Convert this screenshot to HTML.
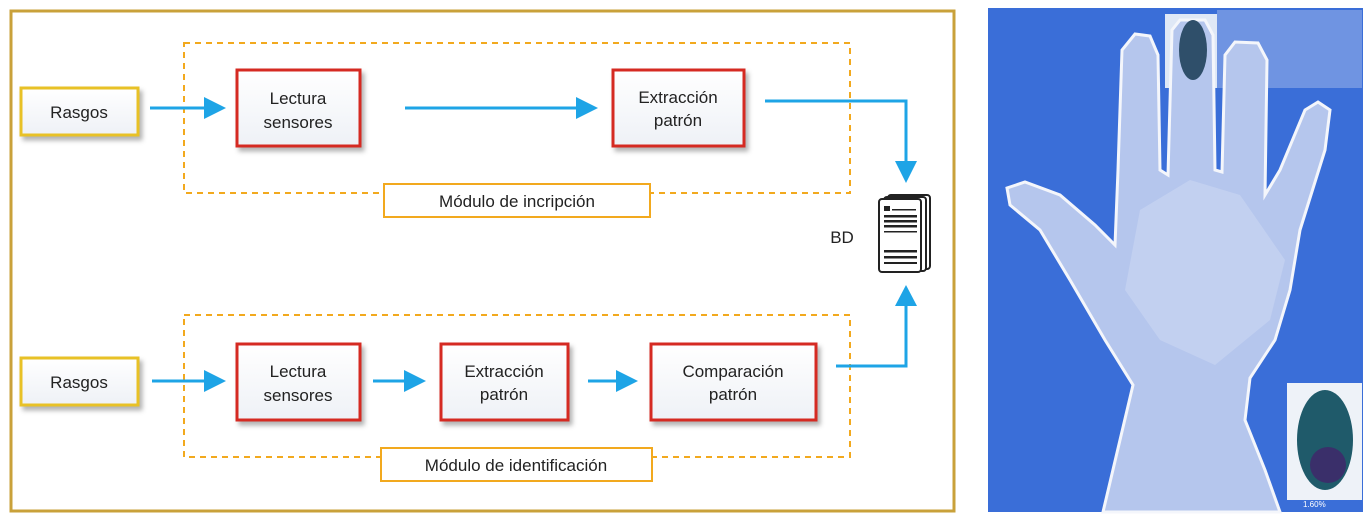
<!DOCTYPE html>
<html><head><meta charset="utf-8"><style>
html,body{margin:0;padding:0;background:#fff;width:1370px;height:520px;overflow:hidden}
svg{display:block}
text{font-family:"Liberation Sans",sans-serif;fill:#222}
</style></head><body>
<svg width="1370" height="520" viewBox="0 0 1370 520" xmlns="http://www.w3.org/2000/svg">
<defs>
<filter id="sh" x="-20%" y="-20%" width="150%" height="150%"><feDropShadow dx="3" dy="4" stdDeviation="2.5" flood-color="#000" flood-opacity="0.3"/></filter>
<linearGradient id="bg" x1="0" y1="0" x2="0" y2="1"><stop offset="0" stop-color="#ffffff"/><stop offset="1" stop-color="#eef1f6"/></linearGradient>
</defs>
<rect x="11" y="11" width="943" height="500" fill="#fff" stroke="#c9a13a" stroke-width="3"/>
<rect x="184" y="43" width="666" height="150" fill="none" stroke="#f2a91e" stroke-width="2" stroke-dasharray="6,5"/>
<rect x="184" y="315" width="666" height="142" fill="none" stroke="#f2a91e" stroke-width="2" stroke-dasharray="6,5"/>
<g filter="url(#sh)" stroke-width="3">
<rect x="21" y="88" width="117" height="47" fill="url(#bg)" stroke="#e8c128"/>
<rect x="21" y="358" width="117" height="47" fill="url(#bg)" stroke="#e8c128"/>
<rect x="237" y="70" width="123" height="76" fill="url(#bg)" stroke="#d52a22"/>
<rect x="613" y="70" width="131" height="76" fill="url(#bg)" stroke="#d52a22"/>
<rect x="237" y="344" width="123" height="76" fill="url(#bg)" stroke="#d52a22"/>
<rect x="441" y="344" width="127" height="76" fill="url(#bg)" stroke="#d52a22"/>
<rect x="651" y="344" width="165" height="76" fill="url(#bg)" stroke="#d52a22"/>
</g>
<rect x="384" y="184" width="266" height="33" fill="#fff" stroke="#f2a91e" stroke-width="2"/>
<rect x="381" y="448" width="271" height="33" fill="#fff" stroke="#f2a91e" stroke-width="2"/>
<g font-size="17" text-anchor="middle">
<text x="79" y="118">Rasgos</text>
<text x="79" y="388">Rasgos</text>
<text x="298" y="104">Lectura</text><text x="298" y="128">sensores</text>
<text x="678" y="103">Extracción</text><text x="678" y="126">patrón</text>
<text x="298" y="377">Lectura</text><text x="298" y="401">sensores</text>
<text x="504" y="377">Extracción</text><text x="504" y="400">patrón</text>
<text x="733" y="377">Comparación</text><text x="733" y="400">patrón</text>
<text x="517" y="207">Módulo de incripción</text>
<text x="516" y="471">Módulo de identificación</text>
<text x="842" y="243">BD</text>
</g>
<g stroke="#1ea4e6" stroke-width="3" fill="none">
<line x1="150" y1="108" x2="208" y2="108"/>
<line x1="405" y1="108" x2="580" y2="108"/>
<polyline points="765,101 906,101 906,165"/>
<line x1="152" y1="381" x2="208" y2="381"/>
<line x1="373" y1="381" x2="408" y2="381"/>
<line x1="588" y1="381" x2="620" y2="381"/>
<polyline points="836,366 906,366 906,302"/>
</g>
<g fill="#1ea4e6">
<polygon points="204,97 226,108 204,119"/>
<polygon points="576,97 598,108 576,119"/>
<polygon points="895,161 917,161 906,183"/>
<polygon points="204,370 226,381 204,392"/>
<polygon points="404,370 426,381 404,392"/>
<polygon points="616,370 638,381 616,392"/>
<polygon points="895,306 917,306 906,285"/>
</g>
<g stroke="#222" stroke-width="2" fill="#fff">
<rect x="888" y="195" width="42" height="74" rx="3"/>
<rect x="884" y="197" width="42" height="74" rx="3"/>
<rect x="879" y="199" width="42" height="73" rx="3"/>
</g>
<g fill="#222">
<rect x="884" y="206" width="6" height="5"/><rect x="892" y="209" width="24" height="1.5"/>
<rect x="884" y="215" width="33" height="2.5"/><rect x="884" y="220" width="33" height="2.5"/><rect x="884" y="225" width="33" height="2.5"/>
<rect x="884" y="231" width="33" height="1.5"/>
<rect x="884" y="250" width="33" height="2.5"/><rect x="884" y="256" width="33" height="2.5"/><rect x="884" y="262" width="33" height="2"/>
</g>
<rect x="988" y="8" width="375" height="504" fill="#3a6ed8"/>
<rect x="1217" y="10" width="145" height="78" fill="#6f94e2"/>
<rect x="1165" y="14" width="52" height="74" fill="#dfe8f6"/>
<path d="M1103,512 L1120,440 L1133,385 L1105,340 L1070,280 L1040,230 L1010,205 L1007,188 L1025,182 L1060,195 L1095,225 L1115,245 L1118,170 L1122,50 L1135,34 L1150,36 L1158,55 L1160,170 L1168,175 L1172,30 L1180,20 L1205,20 L1213,35 L1215,170 L1222,172 L1225,55 L1235,42 L1258,43 L1267,60 L1265,195 L1280,170 L1305,110 L1318,102 L1330,110 L1325,150 L1300,230 L1290,290 L1275,340 L1250,378 L1245,420 L1265,470 L1280,512 Z" fill="#b5c6ed" stroke="#f4f6fb" stroke-width="3"/>
<path d="M1140,210 L1190,180 L1240,195 L1285,260 L1270,320 L1215,365 L1160,340 L1125,290 Z" fill="#c2d0f0"/>
<ellipse cx="1193" cy="50" rx="14" ry="30" fill="#2f4f6a"/>
<rect x="1287" y="383" width="75" height="117" fill="#eef2f8"/>
<ellipse cx="1325" cy="440" rx="28" ry="50" fill="#1f5a6a"/>
<ellipse cx="1328" cy="465" rx="18" ry="18" fill="#3a2f6a"/>
<text x="1303" y="507" font-size="8" style="fill:#fff">1.60%</text>
</svg>
</body></html>
